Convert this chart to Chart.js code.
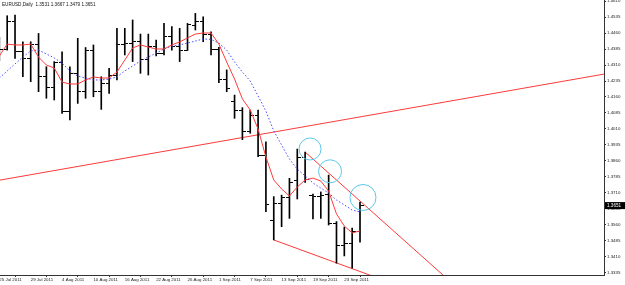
<!DOCTYPE html>
<html><head><meta charset="utf-8">
<script src="https://cdn.jsdelivr.net/npm/chart.js@4.4.1/dist/chart.umd.min.js"></script>
<style>html,body{margin:0;padding:0;background:#fff;overflow:hidden}canvas{display:block}</style>
</head><body>
<canvas id="c" width="625" height="285"></canvas>
<script>
const symbol = 'EURUSD';
const timeframe = 'Daily';
const dates = ['25 Jul 2011','26 Jul 2011','27 Jul 2011','28 Jul 2011','29 Jul 2011',
 '1 Aug 2011','2 Aug 2011','3 Aug 2011','4 Aug 2011','5 Aug 2011','8 Aug 2011','9 Aug 2011','10 Aug 2011','11 Aug 2011','12 Aug 2011',
 '15 Aug 2011','16 Aug 2011','17 Aug 2011','18 Aug 2011','19 Aug 2011','22 Aug 2011','23 Aug 2011','24 Aug 2011','25 Aug 2011','26 Aug 2011',
 '29 Aug 2011','30 Aug 2011','31 Aug 2011','1 Sep 2011','2 Sep 2011','5 Sep 2011','6 Sep 2011','7 Sep 2011','8 Sep 2011','9 Sep 2011',
 '12 Sep 2011','13 Sep 2011','14 Sep 2011','15 Sep 2011','16 Sep 2011','19 Sep 2011','20 Sep 2011','21 Sep 2011','22 Sep 2011','23 Sep 2011',
 '26 Sep 2011','27 Sep 2011'];
const open  = [1.4395,1.4382,1.4513,1.4371,1.4341,1.4405,1.4255,1.4206,1.4321,1.4091,1.4270,1.4185,1.4380,1.4185,1.4225,
 1.4262,1.4404,1.4412,1.4419,1.4337,1.4399,1.4365,1.4443,1.4399,1.4380,1.4495,1.4513,1.4455,1.4385,1.4240,
 1.4140,1.4099,1.3998,1.4075,1.3888,1.3583,1.3660,1.3690,1.3768,1.3877,1.3698,1.3694,1.3701,1.3569,1.3466,1.3475,1.3531];
const high  = [1.4440,1.4541,1.4544,1.4419,1.4419,1.4458,1.4302,1.4326,1.4372,1.4302,1.4435,1.4392,1.4404,1.4255,1.4294,
 1.4482,1.4482,1.4521,1.4455,1.4455,1.4427,1.4505,1.4490,1.4482,1.4505,1.4552,1.4536,1.4466,1.4393,1.4287,
 1.4169,1.4110,1.4099,1.4099,1.3950,1.3693,1.3700,1.3779,1.3916,1.3902,1.3705,1.3715,1.3794,1.3576,1.3550,1.3545,1.3667];
const low   = [1.4330,1.4380,1.4341,1.4255,1.4232,1.4185,1.4154,1.4146,1.4083,1.4052,1.4130,1.4154,1.4161,1.4102,1.4177,
 1.4240,1.4357,1.4326,1.4271,1.4263,1.4352,1.4357,1.4380,1.4326,1.4378,1.4474,1.4419,1.4357,1.4227,1.4185,
 1.4060,1.3960,1.3990,1.3880,1.3622,1.3490,1.3552,1.3591,1.3682,1.3760,1.3588,1.3591,1.3560,1.3381,1.3415,1.3358,1.3479];
const close = [1.4382,1.4513,1.4371,1.4341,1.4405,1.4255,1.4206,1.4321,1.4091,1.4270,1.4185,1.4380,1.4185,1.4225,1.4262,
 1.4404,1.4412,1.4419,1.4337,1.4399,1.4365,1.4443,1.4399,1.4380,1.4502,1.4513,1.4455,1.4385,1.4240,1.4202,
 1.4099,1.3998,1.4075,1.3888,1.3654,1.3660,1.3690,1.3760,1.3878,1.3771,1.3694,1.3698,1.3569,1.3466,1.3475,1.3529,1.3651];
const maFast = [1.4352,1.4408,1.4404,1.4404,1.4408,1.4347,1.4310,1.4296,1.4230,1.4221,1.4221,1.4240,1.4254,1.4249,1.4249,
 1.4277,1.4333,1.4390,1.4404,1.4394,1.4385,1.4385,1.4404,1.4418,1.4437,1.4455,1.4460,1.4460,1.4408,1.4324,
 1.4244,1.4151,1.4099,1.4010,1.3879,1.3771,1.3729,1.3696,1.3738,1.3771,1.3780,1.3766,1.3719,1.3612,1.3555,1.3523,1.3532];
const maSlow = [1.4249,1.4282,1.4315,1.4347,1.4376,1.4380,1.4362,1.4343,1.4319,1.4282,1.4258,1.4249,1.4240,1.4240,1.4244,
 1.4254,1.4282,1.4305,1.4329,1.4347,1.4366,1.4385,1.4399,1.4404,1.4413,1.4422,1.4432,1.4430,1.4413,1.4380,
 1.4324,1.4277,1.4235,1.4165,1.4094,1.4001,1.3935,1.3869,1.3822,1.3790,1.3757,1.3733,1.3710,1.3677,1.3654,1.3630,1.3621];
const xTickIdx = [0,4,8,12,16,20,24,28,32,36,40,44];
const yTickValues = [1.3335,1.3410,1.3485,1.3560,1.3635,1.3710,1.3785,1.3860,1.3935,1.4010,1.4085,1.4160,1.4235,1.4310,1.4385,1.4460,1.4535,1.4610];
const xRange = [0.084, 77.12];
const yRange = [1.33256, 1.46147];
const trendLong  = [[-2, 1.3757], [80, 1.4286]];
const trendUpper = [[39, 1.3902], [58, 1.3279]];
const trendLower = [[35, 1.3490], [48, 1.3315]];
const circles = [[39.63, 1.39163], [42.18, 1.38117], [46.38, 1.36889]];
const circleRadii = [11, 11.5, 13];

const FONT = '"Liberation Sans", Arial, sans-serif';
function tickImg(side) {
  const c = document.createElement('canvas'); c.width = 7; c.height = 1;
  const g = c.getContext('2d'); g.fillStyle = '#000';
  if (side < 0) g.fillRect(0, 0, 3, 1); else g.fillRect(4, 0, 3, 1);
  return c;
}
const pts = a => a.map(p => ({x: p[0], y: p[1]}));
const RED = '#ff3a3a';

const headerPlugin = {
  id: 'header',
  afterDraw(chart) {
    const ctx = chart.ctx, n = close.length - 1;
    ctx.save();
    ctx.font = '4.6px ' + FONT;
    ctx.fillStyle = '#111';
    ctx.textBaseline = 'middle';
    ctx.textAlign = 'left';
    ctx.fillText(symbol + ',' + timeframe + '  ' + open[n].toFixed(4) + ' ' + high[n].toFixed(4) + ' ' + low[n].toFixed(4) + ' ' + close[n].toFixed(4), 2, 5);
    const y = chart.scales.y.getPixelForValue(close[n]);
    const x0 = chart.chartArea.right + 1;
    ctx.fillStyle = '#000';
    ctx.fillRect(x0, y - 3.5, 20, 7);
    ctx.fillStyle = '#fff';
    ctx.font = '4.6px ' + FONT;
    ctx.fillText(close[n].toFixed(4), x0 + 2, y + 0.3);
    ctx.restore();
  }
};

new Chart(document.getElementById('c'), {
  type: 'scatter',
  data: {
    datasets: [
      {type: 'line', data: pts(trendLong), borderColor: RED, borderWidth: 1, pointRadius: 0, order: 5},
      {type: 'line', data: pts(trendUpper), borderColor: RED, borderWidth: 1, pointRadius: 0, order: 5},
      {type: 'line', data: pts(trendLower), borderColor: RED, borderWidth: 1, pointRadius: 0, order: 5},
      {type: 'bar', data: dates.map((d, i) => ({x: i, y: [low[i], high[i]]})), backgroundColor: '#000', borderWidth: 0, barThickness: 1, order: 4},
      {type: 'scatter', data: open.map((v, i) => ({x: i, y: v})), pointStyle: tickImg(-1), pointRadius: 1, order: 3},
      {type: 'scatter', data: close.map((v, i) => ({x: i, y: v})), pointStyle: tickImg(1), pointRadius: 1, order: 3},
      {type: 'line', data: maSlow.map((v, i) => ({x: i, y: v})), borderColor: '#4a4aff', borderWidth: 1, borderDash: [1.5, 2], pointRadius: 0, order: 2},
      {type: 'line', data: maFast.map((v, i) => ({x: i, y: v})), borderColor: RED, borderWidth: 1, pointRadius: 0, order: 1},
      {type: 'scatter', data: pts(circles), pointRadius: circleRadii, pointBackgroundColor: 'rgba(0,0,0,0)', pointBorderColor: '#5cc6ea', pointBorderWidth: 1, order: 0}
    ]
  },
  options: {
    responsive: false, animation: false, events: [],
    layout: {padding: 0, autoPadding: false},
    plugins: {legend: {display: false}, tooltip: {enabled: false}, title: {display: false}},
    scales: {
      x: {
        type: 'linear', min: xRange[0], max: xRange[1], offset: false,
        border: {display: true, color: '#333', width: 1},
        grid: {drawOnChartArea: false, drawTicks: true, tickLength: 2, color: '#333'},
        ticks: {autoSkip: false, maxRotation: 0, align: 'start', padding: 0.5, color: '#222',
          font: {family: FONT, size: 4.4},
          callback: v => dates[v] !== undefined ? dates[v] : ''},
        afterBuildTicks: s => { s.ticks = xTickIdx.map(v => ({value: v})); },
        afterFit: s => { s.height = 10; s.paddingLeft = 0; s.paddingRight = 0; }
      },
      y: {
        type: 'linear', position: 'right', min: yRange[0], max: yRange[1],
        border: {display: true, color: '#333', width: 1},
        grid: {drawOnChartArea: false, drawTicks: true, tickLength: 2, color: '#333'},
        ticks: {autoSkip: false, padding: 1, color: '#222', font: {family: FONT, size: 4.4},
          callback: v => Number(v).toFixed(4)},
        afterBuildTicks: s => { s.ticks = yTickValues.map(v => ({value: v})); },
        afterFit: s => { s.width = 21; s.paddingTop = 0; s.paddingBottom = 0; }
      }
    }
  },
  plugins: [headerPlugin]
});
</script>
</body></html>
